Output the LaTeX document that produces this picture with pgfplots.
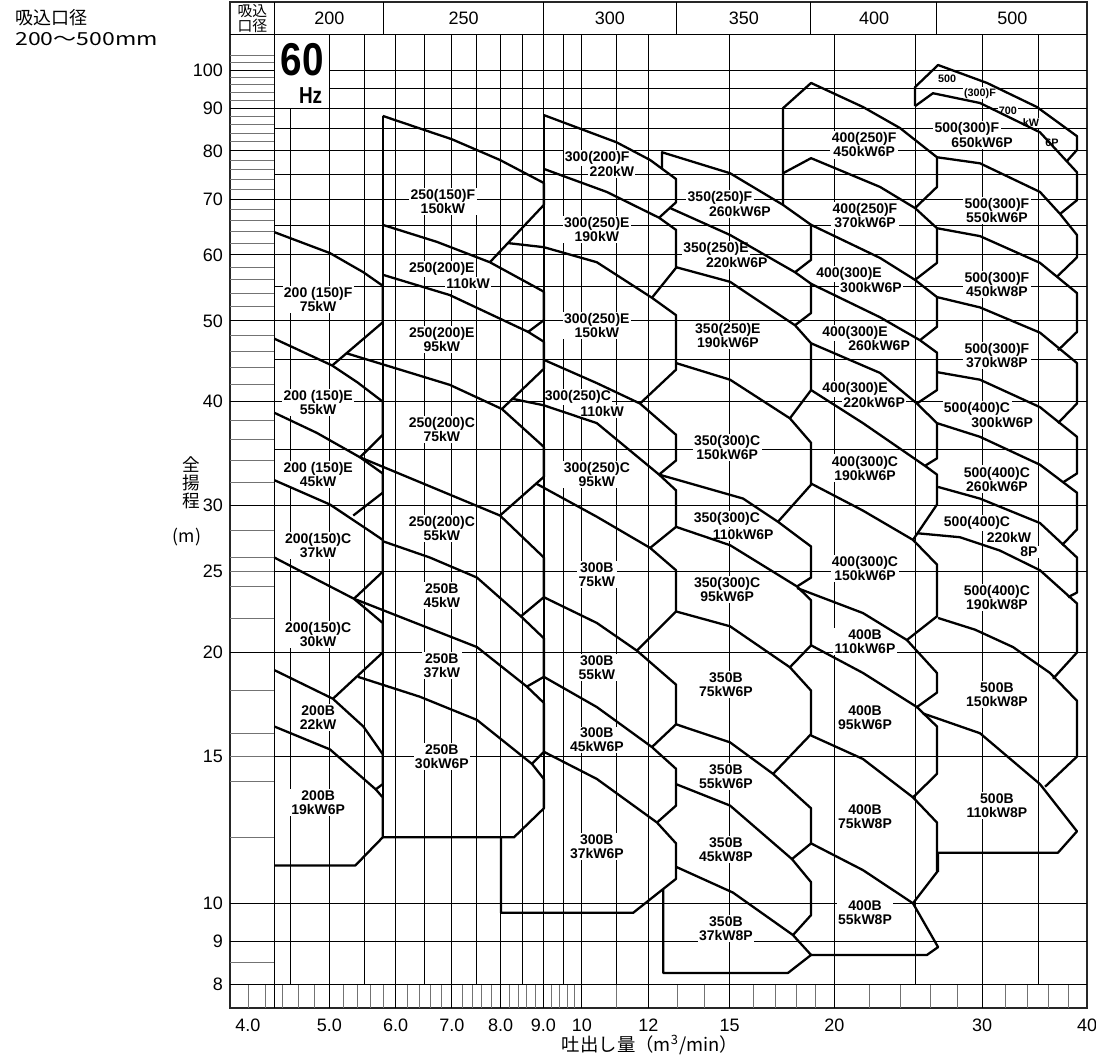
\documentclass[border=0pt]{standalone}
\usepackage{fontspec}
\setmainfont{Liberation Sans}
\newfontfamily\jp{Noto Sans CJK JP}
\usepackage{pgfplots}
\pgfplotsset{compat=1.18}
\tikzset{
  grd/.style={black, line width=0.5pt},
  mnr/.style={black!55, line width=0.4pt},
  pc/.style={black, line width=1.15pt, line join=round},
  lab/.style={font=\fontsize{7}{7}\selectfont\bfseries, fill=white, inner sep=0.7pt, align=center},
  sml/.style={font=\fontsize{5.4}{5.4}\selectfont\bfseries, fill=white, inner sep=0.4pt},
}
\begin{document}
\begin{tikzpicture}[x=0.5pt,y=-0.5pt]
\useasboundingbox (0,0) rectangle (1096,1058);
\begin{axis}[
  at={(115pt,-1pt)}, anchor=north west,
  scale only axis, width=428.5pt, height=503pt,
  xmode=log, ymode=log,
  xmin=3.808, xmax=40, ymin=7.488, ymax=120.7,
  axis line style={line width=0.8pt, black!85},
  xtick={4,5,6,7,8,9,10,12,15,20,30,40},
  xticklabels={4.0,5.0,6.0,7.0,8.0,9.0,10,12,15,20,30,40},
  ytick={8,9,10,15,20,25,30,40,50,60,70,80,90,100},
  yticklabels={8,9,10,15,20,25,30,40,50,60,70,80,90,100},
  xminorticks=false, yminorticks=false,
  major tick length=0pt,
  tick label style={font=\fontsize{9}{10}\selectfont},
  xticklabel style={yshift=-2pt},
  /pgf/number format/assume math mode=true,
  clip=false,
  cycle list={{black}},
]
% ---------- grid ----------
\draw[grd] (axis cs:3.808,110.2) -- (axis cs:40,110.2);
\pgfplotsinvokeforeach{4.3,5.81,9.01,12.98,18.75,26.5}{\draw[grd] (axis cs:#1,110.2) -- (axis cs:#1,120.7);}
\pgfplotsinvokeforeach{8.5,12,14,15,16,18,22,24,25,26,28,32,34,36,38,42,44,46,48,52,54,56,58,62,64,66,68,72,74,76,78,82,84,86,88,92,94,96,98,102,104}{\draw[mnr] (axis cs:3.808,#1) -- (axis cs:4.3,#1);}
\pgfplotsinvokeforeach{4,4.2,4.4,4.6,4.8,5.2,5.4,5.6,5.8,6.2,6.4,6.6,6.8,7.2,7.4,7.6,7.8,8.2,8.4,8.6,8.8,9.2,9.4,9.6,9.8,11,13,14,16,17,18,19,22,24,26,28,32,34,36,38}{\draw[mnr] (axis cs:#1,7.488) -- (axis cs:#1,8);}
\pgfplotsinvokeforeach{8,9,10,20,30,40,50,60,70,80,90}{\draw[grd] (axis cs:3.808,#1) -- (axis cs:40,#1);}
\pgfplotsinvokeforeach{15,25,35,45,55,65,75,85}{\draw[grd] (axis cs:4.3,#1) -- (axis cs:40,#1);}
\draw[grd] (axis cs:3.808,100) -- (axis cs:4.3,100);
\draw[grd] (axis cs:5,100) -- (axis cs:40,100);
\draw[grd] (axis cs:5,95) -- (axis cs:40,95);
\pgfplotsinvokeforeach{5.5,6.5,7.5,8.5,9.5,11,25,35}{\draw[grd] (axis cs:#1,110.2) -- (axis cs:#1,8);}
\draw[grd] (axis cs:4.5,90) -- (axis cs:4.5,8);
\pgfplotsinvokeforeach{4.3,5,6,7,8,9,10,12,15,20,30}{\draw[grd] (axis cs:#1,110.2) -- (axis cs:#1,7.488);}
% ---------- header ----------
\node[font=\jp\fontsize{7.4}{7.4}\selectfont, align=center, inner sep=0] at (axis cs:4.05,115.3) {吸込\\口径};
\node[font=\fontsize{9}{9}\selectfont] at (axis cs:5.0,115.3) {200};
\node[font=\fontsize{9}{9}\selectfont] at (axis cs:7.23,115.3) {250};
\node[font=\fontsize{9}{9}\selectfont] at (axis cs:10.8,115.3) {300};
\node[font=\fontsize{9}{9}\selectfont] at (axis cs:15.6,115.3) {350};
\node[font=\fontsize{9}{9}\selectfont] at (axis cs:22.3,115.3) {400};
\node[font=\fontsize{9}{9}\selectfont] at (axis cs:32.6,115.3) {500};
\node[font=\fontsize{23}{23}\selectfont\bfseries, inner sep=0] at (axis cs:4.64,102.8) {\scalebox{0.84}[1]{60}};
\node[font=\fontsize{10.5}{10.5}\selectfont\bfseries, inner sep=0] at (axis cs:4.75,93.3) {\scalebox{0.9}[1.1]{Hz}};
% ---------- labels ----------
\node[lab] at (axis cs:4.85,53.1) {200 (150)F\\75kW};
\node[lab] at (axis cs:4.85,39.9) {200 (150)E\\55kW};
\node[lab] at (axis cs:4.85,32.7) {200 (150)E\\45kW};
\node[lab] at (axis cs:4.85,26.9) {200(150)C\\37kW};
\node[lab] at (axis cs:4.85,21.0) {200(150)C\\30kW};
\node[lab] at (axis cs:4.85,16.7) {200B\\22kW};
\node[lab] at (axis cs:4.85,13.2) {200B\\19kW6P};
\node[lab] at (axis cs:6.83,69.5) {250(150)F\\150kW};
\node[lab] at (axis cs:6.81,57.7) {250(200)E};
\node[lab] at (axis cs:7.32,55.5) {110kW};
\node[lab] at (axis cs:6.81,47.5) {250(200)E\\95kW};
\node[lab] at (axis cs:6.81,37.0) {250(200)C\\75kW};
\node[lab] at (axis cs:6.81,28.2) {250(200)C\\55kW};
\node[lab] at (axis cs:6.81,23.4) {250B\\45kW};
\node[lab] at (axis cs:6.81,19.3) {250B\\37kW};
\node[lab] at (axis cs:6.81,15.0) {250B\\30kW6P};
\node[lab] at (axis cs:10.43,78.5) {300(200)F};
\node[lab] at (axis cs:10.86,75.6) {220kW};
\node[lab] at (axis cs:10.42,64.3) {300(250)E\\190kW};
\node[lab] at (axis cs:10.42,49.4) {300(250)E\\150kW};
\node[lab] at (axis cs:9.89,40.5) {300(250)C};
\node[lab] at (axis cs:10.57,38.9) {110kW};
\node[lab] at (axis cs:10.42,32.7) {300(250)C\\95kW};
\node[lab] at (axis cs:10.42,24.8) {300B\\75kW};
\node[lab] at (axis cs:10.42,19.2) {300B\\55kW};
\node[lab] at (axis cs:10.42,15.7) {300B\\45kW6P};
\node[lab] at (axis cs:10.42,11.7) {300B\\37kW6P};
\node[lab] at (axis cs:14.61,70.3) {350(250)F};
\node[lab] at (axis cs:15.43,67.7) {260kW6P};
\node[lab] at (axis cs:14.45,61.0) {350(250)E};
\node[lab] at (axis cs:15.30,58.7) {220kW6P};
\node[lab] at (axis cs:14.93,48.0) {350(250)E\\190kW6P};
\node[lab] at (axis cs:14.9,35.2) {350(300)C\\150kW6P};
\node[lab] at (axis cs:14.89,28.9) {350(300)C};
\node[lab] at (axis cs:15.57,27.7) {110kW6P};
\node[lab] at (axis cs:14.9,23.8) {350(300)C\\95kW6P};
\node[lab] at (axis cs:14.85,18.3) {350B\\75kW6P};
\node[lab] at (axis cs:14.85,14.2) {350B\\55kW6P};
\node[lab] at (axis cs:14.85,11.6) {350B\\45kW8P};
\node[lab] at (axis cs:14.85,9.33) {350B\\37kW8P};
\node[lab] at (axis cs:21.7,81.3) {400(250)F\\450kW6P};
\node[lab] at (axis cs:21.75,66.9) {400(250)F\\370kW6P};
\node[lab] at (axis cs:20.82,56.9) {400(300)E};
\node[lab] at (axis cs:22.11,54.8) {300kW6P};
\node[lab] at (axis cs:21.16,48.4) {400(300)E};
\node[lab] at (axis cs:22.61,46.7) {260kW6P};
\node[lab] at (axis cs:21.16,41.4) {400(300)E};
\node[lab] at (axis cs:22.30,39.9) {220kW6P};
\node[lab] at (axis cs:21.75,33.3) {400(300)C\\190kW6P};
\node[lab] at (axis cs:21.75,25.2) {400(300)C\\150kW6P};
\node[lab] at (axis cs:21.75,20.6) {400B\\110kW6P};
\node[lab] at (axis cs:21.75,16.7) {400B\\95kW6P};
\node[lab] at (axis cs:21.75,12.7) {400B\\75kW8P};
\node[lab] at (axis cs:21.75,9.75) {400B\\55kW8P};
\node[sml] at (axis cs:27.24,97.5) {500};
\node[sml] at (axis cs:29.82,93.8) {(300)F};
\node[sml] at (axis cs:32.20,89.3) {700};
\node[sml] at (axis cs:34.30,86.4) {kW};
\node[sml] at (axis cs:36.34,81.9) {6P};
\node[lab] at (axis cs:28.77,85.0) {500(300)F};
\node[lab] at (axis cs:29.99,81.8) {650kW6P};
\node[lab] at (axis cs:31.24,67.8) {500(300)F\\550kW6P};
\node[lab] at (axis cs:31.24,55.3) {500(300)F\\450kW8P};
\node[lab] at (axis cs:31.24,45.4) {500(300)F\\370kW8P};
\node[lab] at (axis cs:29.58,39.2) {500(400)C};
\node[lab] at (axis cs:31.69,37.8) {300kW6P};
\node[lab] at (axis cs:31.24,32.3) {500(400)C\\260kW6P};
\node[lab] at (axis cs:29.58,28.6) {500(400)C};
\node[lab] at (axis cs:32.29,27.5) {220kW};
\node[lab] at (axis cs:34.11,26.4) {8P};
\node[lab] at (axis cs:31.24,23.3) {500(400)C\\190kW8P};
\node[lab] at (axis cs:31.24,17.8) {500B\\150kW8P};
\node[lab] at (axis cs:31.24,13.1) {500B\\110kW8P};
% ---------- column boundaries ----------
\addplot[pc] coordinates {(5.79,88.1)(5.79,12.0)};
\addplot[pc] coordinates {(9.01,88.3)(9.01,13.0)};
% ---------- 200 ----------
\addplot[pc] coordinates {(4.30,63.9)(5.01,60.3)(5.49,57.2)(5.79,55.1)(5.79,49.8)(5.04,44.2)};
\addplot[pc] coordinates {(4.30,47.6)(5.04,44.2)(5.40,42.2)(5.79,40.0)(5.79,36.5)(5.44,34.3)};
\addplot[pc] coordinates {(4.30,38.8)(4.83,36.7)(5.44,34.3)(5.79,32.8)(5.79,31.1)(5.34,29.2)};
\addplot[pc] coordinates {(4.30,32.2)(5.01,30.1)(5.55,28.1)(5.79,27.3)(5.79,25.0)(5.35,23.2)};
\addplot[pc] coordinates {(4.30,26.0)(4.78,24.6)(5.35,23.2)(5.79,21.7)(5.79,20.0)(5.05,17.6)};
\addplot[pc] coordinates {(4.30,19.05)(5.05,17.6)(5.49,16.3)(5.79,15.1)(5.79,13.9)(5.68,13.7)};
\addplot[pc] coordinates {(4.30,16.3)(5.01,15.3)(5.68,13.7)(5.79,13.4)(5.79,12.0)(5.37,11.1)(4.30,11.1)};
% ---------- 250 ----------
\addplot[pc] coordinates {(5.79,88.1)(7.00,82.6)(7.99,78.0)(9.01,73.2)(9.01,68.9)(7.77,58.8)};
\addplot[pc] coordinates {(5.79,65.2)(6.72,62.2)(7.77,58.8)(9.01,54.2)(9.01,50.1)(8.63,48.5)};
\addplot[pc] coordinates {(5.79,56.8)(6.96,53.7)(8.63,48.5)(9.01,47.2)(9.01,43.8)(8.03,39.2)};
\addplot[pc] coordinates {(5.25,45.7)(6.96,41.9)(8.03,39.2)(9.01,35.3)(9.01,32.5)(7.99,29.2)};
\addplot[pc] coordinates {(5.44,34.3)(6.47,31.9)(7.99,29.2)(9.01,26.0)(9.01,23.3)(8.46,22.1)};
\addplot[pc] coordinates {(5.79,27.2)(6.59,26.0)(7.50,24.6)(8.46,22.1)(9.01,20.8)(9.01,18.7)(8.60,18.2)};
\addplot[pc] coordinates {(5.35,23.2)(6.41,21.6)(7.50,20.3)(8.60,18.2)(9.01,17.4)(9.01,15.2)(8.72,14.7)};
\addplot[pc] coordinates {(5.41,18.7)(6.41,17.7)(7.50,16.6)(8.72,14.7)(9.01,14.1)(9.01,13.0)(8.30,12.0)(5.79,12.0)};
% ---------- 300 ----------
\addplot[pc] coordinates {(9.01,88.3)(11.0,81.9)(12.06,78.0)(12.95,74.0)(12.95,69.4)(12.36,66.5)};
\addplot[pc] coordinates {(9.01,76.1)(10.71,71.4)(12.36,66.5)(12.95,64.3)(12.95,57.9)(12.12,53.3)};
\addplot[pc] coordinates {(8.16,62.0)(9.01,61.3)(10.42,58.8)(12.12,53.3)(12.95,50.8)(12.95,43.7)(11.73,39.8)};
\addplot[pc] coordinates {(9.01,44.9)(10.42,42.1)(11.73,39.8)(12.95,36.5)(12.95,34.0)(12.36,32.7)};
\addplot[pc] coordinates {(8.28,40.3)(9.01,39.6)(10.42,37.7)(12.36,32.7)(12.95,31.3)(12.95,28.3)(12.06,26.7)};
\addplot[pc] coordinates {(8.82,31.9)(10.42,29.1)(12.06,26.7)(12.95,25.1)(12.95,22.4)(11.63,20.1)};
\addplot[pc] coordinates {(9.01,23.3)(10.42,21.7)(11.63,20.1)(12.95,18.3)(12.95,16.4)(12.12,15.4)};
\addplot[pc] coordinates {(9.01,18.7)(10.42,17.2)(12.12,15.4)(12.95,14.5)(12.95,13.1)(12.29,12.5)};
\addplot[pc] coordinates {(9.01,15.2)(10.42,14.1)(12.29,12.5)(12.95,11.8)(12.95,10.7)(11.51,9.74)(8.01,9.74)(8.01,12.0)};
% ---------- 350 ----------
\addplot[pc] coordinates {(12.46,76.1)(12.46,79.7)(15.02,75.2)(17.37,68.9)(18.76,65.2)(18.76,59.2)(17.95,57.2)};
\addplot[pc] coordinates {(12.74,68.3)(15.02,63.4)(17.95,57.2)(18.76,55.4)(18.76,51.1)(17.95,49.4)};
\addplot[pc] coordinates {(12.95,58.0)(15.02,55.7)(17.95,49.4)(18.76,47.0)(18.76,41.3)(17.70,38.2)};
\addplot[pc] coordinates {(12.95,44.5)(15.02,42.5)(17.70,38.2)(18.76,35.7)(18.76,31.8)(17.13,28.7)};
\addplot[pc] coordinates {(12.36,32.7)(15.57,30.6)(17.13,28.7)(18.76,26.8)(18.76,24.6)(18.05,24.0)};
\addplot[pc] coordinates {(12.95,28.3)(15.02,26.9)(18.05,24.0)(18.76,23.1)(18.76,20.4)(17.70,19.2)};
\addplot[pc] coordinates {(12.95,22.4)(15.02,21.5)(17.70,19.2)(18.76,18.0)(18.76,15.96)(16.90,14.3)};
\addplot[pc] coordinates {(12.95,16.4)(15.02,15.6)(16.90,14.3)(18.76,13.0)(18.76,11.8)(17.80,11.3)};
\addplot[pc] coordinates {(12.95,13.9)(15.02,13.1)(17.80,11.3)(18.76,10.6)(18.76,9.68)(17.85,9.16)};
\addplot[pc] coordinates {(12.95,11.06)(15.14,10.3)(17.85,9.16)(18.76,8.67)(17.61,8.25)(12.50,8.25)(12.50,10.4)};
% ---------- 400 ----------
\addplot[pc] coordinates {(17.37,68.9)(17.37,90.0)(18.76,96.5)(21.63,90.3)(23.94,85.2)(26.5,78.6)(26.5,72.4)(24.95,68.3)};
\addplot[pc] coordinates {(17.37,75.2)(18.76,78.4)(22.67,72.4)(24.95,68.3)(26.5,64.6)(26.5,58.7)(24.95,56.0)};
\addplot[pc] coordinates {(18.76,65.2)(22.67,59.5)(24.95,56.0)(26.5,53.4)(26.5,49.2)(25.29,47.4)};
\addplot[pc] coordinates {(18.76,55.4)(22.67,50.5)(25.29,47.4)(26.5,45.8)(26.5,41.3)(25.08,39.8)};
\addplot[pc] coordinates {(18.76,47.0)(22.67,43.3)(25.08,39.8)(26.5,37.7)(26.5,34.2)(25.64,33.5)};
\addplot[pc] coordinates {(18.76,41.3)(21.63,37.7)(25.64,33.5)(26.5,32.7)(26.5,30.1)(24.81,27.3)};
\addplot[pc] coordinates {(18.76,31.9)(21.63,29.6)(24.81,27.3)(26.5,25.5)(26.5,22.1)(24.40,20.7)};
\addplot[pc] coordinates {(18.05,23.9)(21.63,22.3)(24.40,20.7)(26.5,18.9)(26.5,17.9)(25.08,17.2)};
\addplot[pc] coordinates {(18.76,20.4)(21.63,18.9)(25.08,17.2)(26.5,16.3)(26.5,14.3)(24.81,13.4)};
\addplot[pc] coordinates {(18.76,15.9)(21.63,14.9)(24.81,13.4)(26.5,12.5)(26.5,10.9)(24.81,10.0)};
\addplot[pc] coordinates {(18.76,11.8)(21.63,10.96)(24.81,10.0)(26.58,8.86)(25.78,8.67)(18.76,8.67)};
% ---------- 500 ----------
\addplot[pc] coordinates {(24.95,90.5)(24.95,95.4)(26.58,101.4)(30.40,96.5)(34.86,90.3)(38.92,83.3)(38.92,80.2)(37.87,77.8)};
\addplot[pc] coordinates {(24.95,90.5)(26.21,93.8)(29.82,91.3)(35.16,84.2)(38.92,75.4)(38.92,69.8)(37.15,67.2)};
\addplot[pc] coordinates {(26.5,78.6)(29.82,77.3)(35.16,71.4)(37.15,67.2)(38.92,63.4)(38.92,59.6)(36.84,56.5)};
\addplot[pc] coordinates {(26.5,64.6)(29.82,63.2)(35.16,58.7)(38.92,54.0)(38.92,48.5)(36.94,46.1)};
\addplot[pc] coordinates {(26.5,53.4)(29.82,51.9)(35.16,48.4)(38.92,44.5)(38.92,39.8)(36.94,37.7)};
\addplot[pc] coordinates {(26.5,43.4)(29.82,42.5)(35.16,39.4)(38.92,36.3)(38.92,32.8)(37.45,32.0)};
\addplot[pc] coordinates {(26.5,37.7)(29.82,36.3)(35.16,33.6)(38.92,31.1)(38.92,28.1)(37.35,26.9)};
\addplot[pc] coordinates {(26.58,31.6)(29.82,30.6)(35.16,28.6)(38.92,26.0)(38.92,23.6)(37.97,23.3)};
\addplot[pc] coordinates {(25.15,27.8)(28.23,27.5)(31.51,26.5)(35.16,25.1)(38.92,22.9)(38.92,20.0)(36.44,18.6)};
\addplot[pc] coordinates {(26.58,22.0)(29.42,21.3)(32.65,20.3)(36.14,18.9)(38.92,17.5)(38.92,15.0)(35.65,13.8)};
\addplot[pc] coordinates {(25.50,16.9)(29.82,16.0)(35.16,13.9)(38.92,12.2)(36.94,11.5)(26.58,11.5)(26.58,10.9)};
\end{axis}
% ---------- outer texts ----------
\node[anchor=north west, inner sep=0, font=\jp\fontsize{9}{10.5}\selectfont, align=left] at (15,9) {吸込口径\\\scalebox{1.28}[1]{200～500mm}};
\node[font=\jp\fontsize{8.8}{9}\selectfont, inner sep=0] at (191,465) {全};
\node[font=\jp\fontsize{8.8}{9}\selectfont, inner sep=0] at (191,483) {揚};
\node[font=\jp\fontsize{8.8}{9}\selectfont, inner sep=0] at (191,501) {程};
\node[font=\jp\fontsize{8.8}{9}\selectfont, inner sep=0] at (187,537) {(m)};
\node[font=\jp\fontsize{9.2}{10}\selectfont, inner sep=0] at (650,1045) {吐出し量（m\textsuperscript{3}/min）};
\end{tikzpicture}
\end{document}
